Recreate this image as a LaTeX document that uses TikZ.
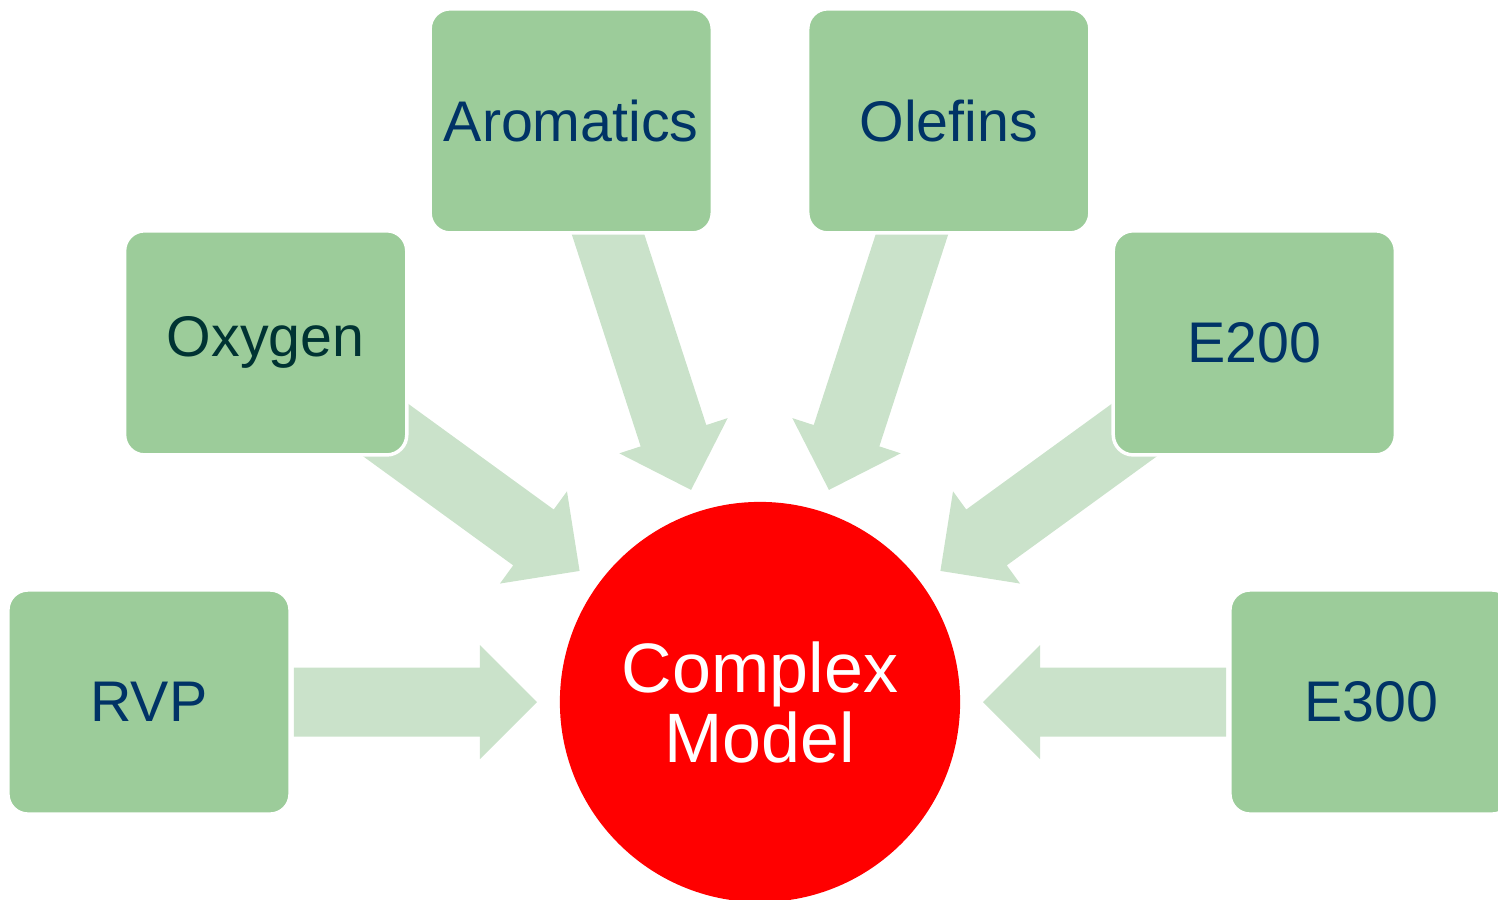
\documentclass[tikz,border=0pt]{standalone}
\usepackage{fontspec}
\setmainfont{Liberation Sans}
\usetikzlibrary{calc}
\definecolor{boxgreen}{HTML}{9CCC9A}
\definecolor{arrowgreen}{HTML}{CAE2CA}
\definecolor{navytext}{HTML}{003366}
\definecolor{tealtext}{HTML}{003333}
\begin{document}
\begin{tikzpicture}[x=0.01cm,y=0.01cm,
  inbox/.style={rectangle, rounded corners=0.2cm, fill=boxgreen, draw=white,
    line width=0.035cm, minimum width=2.82cm, minimum height=2.24cm,
    inner sep=0pt, text=navytext, font=\fontsize{16.3}{18}\selectfont},
  hub/.style={circle, fill=red, minimum size=4cm, inner sep=0pt,
    text=white, align=center, font=\fontsize{19.9}{19.9}\selectfont},
  blockarrow/.style={fill=arrowgreen}]
\useasboundingbox (-760,-197) rectangle (738,702);
\begin{scope}
\clip (-760,-197) rectangle (738,702);
\node[hub] (cm) at (0,0) {Complex\\Model};
% block arrows, pointing at the hub
\foreach \a/\t in {180/466,144/466,108/520,72/520,36/466,0/466}{
  \fill[blockarrow, shift={(cm.center)}, rotate=\a]
    (\t,34.5) -- (280,34.5) -- (280,57) -- (223,0) -- (280,-57)
    -- (280,-34.5) -- (\t,-34.5) -- cycle;
}
\node[inbox] (rvp) at ($(cm.center)+(180:611)$) {RVP};
\node[inbox, text=tealtext] (oxy) at ($(cm.center)+(144:611)$) {Oxygen};
\node[inbox] (aro) at ($(cm.center)+(108:611)$) {Aromatics};
\node[inbox] (ole) at ($(cm.center)+(72:611)$) {Olefins};
\node[inbox] (e200) at ($(cm.center)+(36:611)$) {E200};
\node[inbox] (e300) at ($(cm.center)+(0:611)$) {E300};
\end{scope}
\end{tikzpicture}
\end{document}
